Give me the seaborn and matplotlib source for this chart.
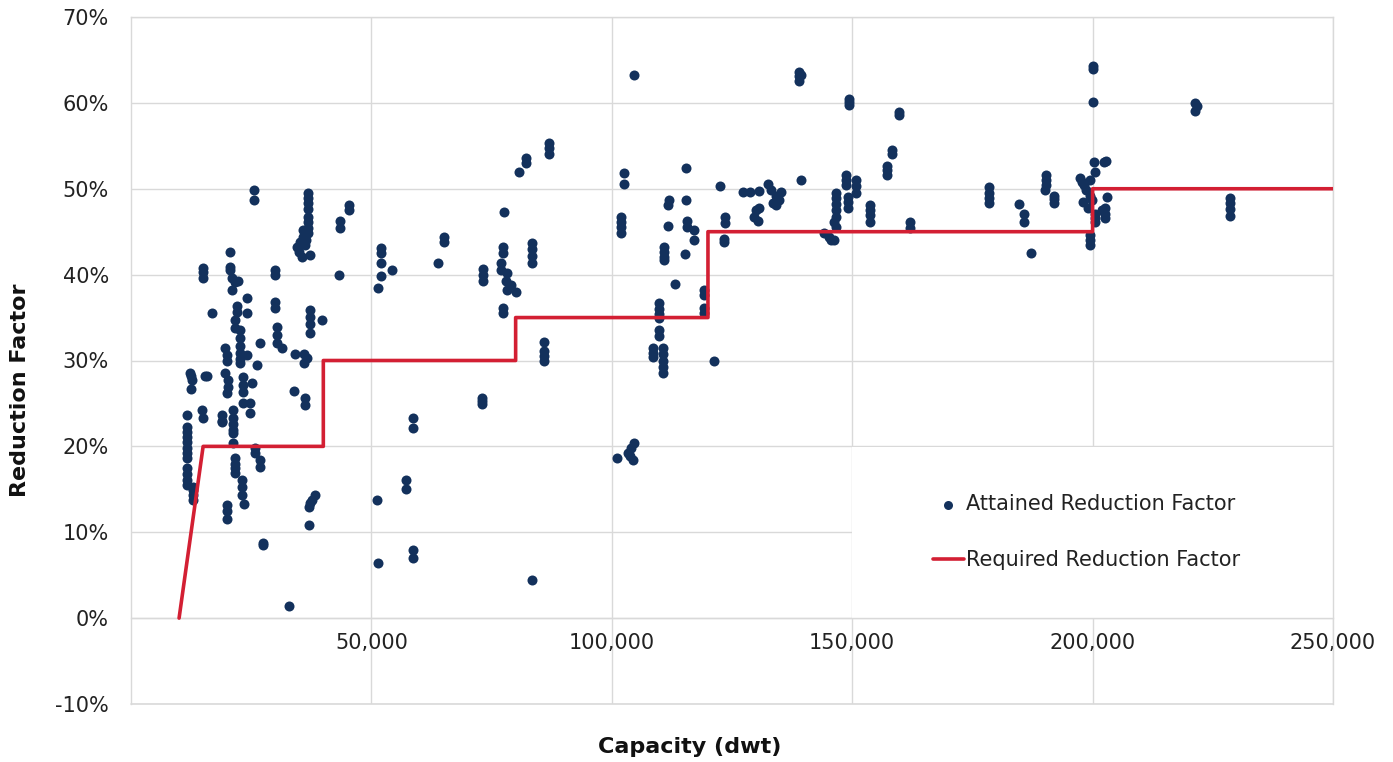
import matplotlib

matplotlib.use("Agg")
import matplotlib.pyplot as plt
import pandas as pd
import seaborn as sns
from matplotlib.patches import Rectangle
from matplotlib.ticker import FuncFormatter

NAVY = "#13315C"
RED = "#D31F33"
GRID = "#D9D9D9"

# attained reduction factor per ship, (capacity dwt, reduction %), grouped by size band
band_10_20k = [
    (11700, 23.6), (11700, 22.2), (11700, 21.7), (11700, 21.1), (11700, 20.5), (11700, 19.8),
    (11700, 19.2), (11700, 18.6), (11700, 17.5), (11700, 16.8), (11700, 16.1), (11700, 15.5),
    (12300, 28.6), (12500, 28.2), (12700, 27.7), (12500, 26.7),
    (12900, 15.3), (12900, 14.9), (12900, 14.3), (12900, 13.7),
    (15000, 40.8), (15000, 40.3), (15000, 39.6), (15400, 28.2), (15800, 28.2),
    (14800, 24.2), (15000, 23.3), (16900, 35.5),
    (19000, 23.6), (19000, 23.0), (19000, 22.8),
    (19600, 31.4), (20000, 30.6), (20000, 30.0), (19600, 28.6), (20200, 27.7), (20200, 26.9), (20000, 26.2),
]
band_20_30k = [
    (20600, 42.6), (20600, 40.9), (20600, 40.5), (21000, 39.6), (22300, 39.3), (21700, 39.1), (21000, 38.2),
    (22100, 36.4), (22100, 35.6), (21700, 34.7), (21700, 33.8), (24200, 37.3), (24200, 35.5),
    (22700, 33.5), (22700, 32.6), (22700, 31.7), (22700, 30.9), (22700, 30.2), (22700, 29.7),
    (24200, 30.6), (26900, 32.0), (26250, 29.5),
    (23300, 28.1), (23300, 27.2), (23300, 26.3), (23300, 25.0), (25200, 27.4), (24800, 25.0), (24800, 23.9),
    (21250, 24.2), (21250, 23.3), (21250, 22.6), (21250, 21.9), (21250, 21.5), (21250, 20.4),
    (21700, 18.7), (21700, 18.0), (21700, 17.5), (21700, 16.9),
    (23100, 16.1), (23100, 15.3), (23100, 14.3), (23500, 13.3),
    (20000, 13.2), (20000, 12.5), (20000, 11.6),
    (25800, 19.8), (25800, 19.2), (26900, 18.4), (26900, 17.6),
    (27500, 8.8), (27500, 8.5), (25600, 49.8), (25600, 48.7),
]
band_30_40k = [
    (30000, 40.5), (30000, 39.9), (30000, 36.8), (30000, 36.1),
    (30400, 33.9), (30400, 33.0), (30400, 32.0), (31500, 31.5), (32900, 1.4),
    (34200, 30.7), (36000, 30.8), (36000, 29.7), (36700, 30.3),
    (34000, 26.5), (36250, 25.6), (36250, 24.8),
    (37300, 35.9), (37300, 35.1), (37300, 34.2), (37300, 33.2), (39800, 34.7),
    (36900, 49.5), (36900, 48.9), (36900, 48.3), (36900, 47.7), (36900, 46.7), (36900, 46.1),
    (36900, 45.4), (36900, 44.8), (35800, 44.4), (35200, 43.8), (34600, 43.2), (36250, 43.4),
    (35000, 42.6), (35600, 42.0), (37300, 42.3), (35800, 45.2), (36500, 44.0),
    (38300, 14.3), (37700, 13.7), (37300, 13.4), (37100, 12.9), (37100, 10.9),
]
band_40_60k = [
    (43500, 46.3), (43500, 45.4), (45400, 48.1), (45400, 47.5), (43300, 40.0),
    (51250, 13.7), (51450, 6.4), (57100, 16.1), (57100, 15.0), (58750, 7.9), (58750, 7.0),
    (58750, 23.3), (58750, 22.1),
    (51900, 43.1), (51900, 42.5), (51900, 41.4), (51900, 39.8), (51450, 38.5), (54200, 40.5),
]
band_60_100k = [
    (63750, 41.3), (65000, 44.4), (65000, 43.8),
    (73100, 25.6), (73100, 25.3), (73100, 24.9), (73300, 40.7), (73300, 40.0), (73300, 39.3),
    (77500, 47.3), (77300, 43.2), (77300, 42.5), (76900, 41.4), (76900, 40.5),
    (78300, 40.2), (77900, 39.3), (79000, 38.8), (78300, 38.2), (80000, 38.0),
    (77300, 36.1), (77300, 35.5),
    (80800, 51.9), (82100, 53.6), (82100, 53.0), (86900, 55.3), (86900, 54.7), (86900, 54.1),
    (83300, 43.7), (83300, 43.0), (83300, 42.2), (83300, 41.3),
    (86000, 32.1), (86000, 31.1), (86000, 30.5), (86000, 30.0), (83300, 4.4),
]
band_100_150k = [
    (102500, 51.8), (102500, 50.6), (101900, 46.7), (101900, 46.1), (101900, 45.5), (101900, 44.9),
    (101000, 18.6), (103300, 19.2), (104000, 19.8), (104600, 20.4), (104400, 18.4), (103800, 18.9),
    (104600, 63.2),
    (111900, 48.7), (111700, 48.1), (111700, 45.7),
    (110800, 43.2), (110800, 42.6), (110800, 42.0), (110800, 41.7), (113100, 38.9),
    (109800, 36.7), (109800, 36.0), (109800, 35.4), (109800, 35.0), (109800, 33.5), (109800, 32.9),
    (108500, 31.4), (108500, 30.9), (108500, 30.4),
    (110600, 31.4), (110600, 30.7), (110600, 30.0), (110600, 29.3), (110600, 28.5),
    (115400, 52.4), (115400, 48.7), (115600, 46.3), (115600, 45.5), (117100, 45.2), (117100, 44.0),
    (115200, 42.4), (119200, 38.2), (119200, 37.6), (119200, 36.1), (119200, 35.5), (121200, 30.0),
    (122500, 50.3), (123500, 46.7), (123500, 46.0), (123300, 44.2), (123300, 43.8),
    (127300, 49.6), (128700, 49.6), (130600, 49.7), (132500, 50.6),
    (129600, 46.7), (130000, 47.5), (130600, 47.8), (130400, 46.3),
    (133100, 49.8), (134200, 49.2), (134800, 48.7), (133500, 48.3), (135200, 49.6), (134200, 48.1),
    (139400, 51.0), (139000, 63.6), (139000, 63.1), (139000, 62.6), (139400, 63.3),
    (146700, 49.5), (146700, 48.9), (146700, 48.2), (146700, 47.5), (146700, 46.7), (146700, 45.5),
    (146200, 46.1), (144200, 44.8), (145200, 44.4), (146200, 44.0), (145600, 44.0),
    (148700, 51.6), (148700, 51.0), (148700, 50.4), (149200, 49.0), (149200, 48.4), (149200, 47.8),
    (150800, 51.0), (150800, 50.3), (150800, 49.5), (149400, 60.5), (149400, 60.1), (149400, 59.7),
]
band_150k_plus = [
    (159800, 58.9), (159800, 58.6), (158300, 54.5), (158300, 54.1),
    (157300, 52.7), (157300, 52.2), (157300, 51.6),
    (153700, 48.1), (153700, 47.5), (153700, 46.9), (153700, 46.1), (162100, 46.1), (162100, 45.4),
    (178500, 50.2), (178500, 49.5), (178500, 48.9), (178500, 48.3),
    (184600, 48.2), (185800, 47.1), (185800, 46.1), (187100, 42.5),
    (190400, 51.6), (190400, 51.0), (190400, 50.4), (190000, 49.8),
    (191900, 49.2), (191900, 48.8), (191900, 48.3),
    (200000, 64.3), (200000, 64.0), (200000, 60.1),
    (200200, 53.1), (202300, 53.1), (202700, 53.2), (200400, 51.9),
    (197300, 51.2), (197700, 50.8), (198300, 50.4), (198700, 49.8), (199400, 49.2), (199800, 48.7),
    (199000, 47.8), (198100, 48.5), (199400, 51.0),
    (200400, 47.1), (200400, 46.6), (200400, 46.1),
    (202900, 49.0), (202500, 47.8), (202500, 47.1), (202500, 46.6), (201900, 47.5),
    (199400, 44.6), (199400, 44.0), (199400, 43.4),
    (221250, 60.0), (221700, 59.6), (221250, 59.1),
    (228500, 48.9), (228500, 48.3), (228500, 47.7), (228500, 46.8),
]

# required reduction factor (step curve)
required_dwt = [10000, 15000, 40000, 40000, 80000, 80000, 120000, 120000, 200000, 200000, 250000]
required_pct = [0, 20, 20, 30, 30, 35, 35, 45, 45, 50, 50]

x_ticks = [50000, 100000, 150000, 200000, 250000]
y_ticks = list(range(-10, 71, 10))


def main() -> None:
    sns.set_theme(style="white")
    plt.rcParams["font.family"] = ["DejaVu Sans"]

    bands = band_10_20k + band_20_30k + band_30_40k + band_40_60k + band_60_100k + band_100_150k + band_150k_plus
    points = pd.DataFrame(bands, columns=["dwt", "pct"])

    fig, ax = plt.subplots(figsize=(13.93, 7.62), dpi=100)
    fig.subplots_adjust(left=131 / 1393, right=1333 / 1393, top=1 - 17 / 762, bottom=1 - 704 / 762)

    ax.set_axisbelow(True)
    ax.grid(True, color=GRID, linewidth=1.0)
    for spine in ax.spines.values():
        spine.set_color(GRID)
        spine.set_linewidth(1.0)
    ax.spines["bottom"].set_position(("data", 0))
    # frame line along the bottom edge (-10%)
    ax.axhline(-10, color=GRID, linewidth=1.2, clip_on=False, zorder=0.6)

    # white panel behind the legend hides the gridlines there
    ax.add_patch(Rectangle((0.6, 0.125), 0.4, 0.249, transform=ax.transAxes,
                           facecolor="white", edgecolor="none", zorder=1))

    sns.scatterplot(data=points, x="dwt", y="pct", color=NAVY, s=52, linewidth=0,
                    ax=ax, label="Attained Reduction Factor", zorder=3)
    sns.lineplot(x=required_dwt, y=required_pct, sort=False, estimator=None, color=RED,
                 linewidth=2.6, ax=ax, label="Required Reduction Factor", zorder=4)

    ax.set_xlim(0, 250000)
    ax.set_ylim(-10, 70)
    ax.set_xticks(x_ticks)
    ax.set_yticks(y_ticks)
    ax.xaxis.set_major_formatter(FuncFormatter(lambda v, _: f"{v:,.0f}"))
    ax.yaxis.set_major_formatter(FuncFormatter(lambda v, _: f"{v:.0f}%"))
    ax.tick_params(axis="x", length=0, pad=11, labelsize=15, labelcolor="#222222")
    ax.tick_params(axis="y", length=0, pad=16, labelsize=15, labelcolor="#222222")

    ax.set_xlabel("")
    ax.set_ylabel("")
    fig.text(690 / 1393, 1 - 747 / 762, "Capacity (dwt)", ha="center", va="center",
             fontsize=16, fontweight="bold", color="#111111")
    fig.text(20 / 1393, 1 - 390 / 762, "Reduction Factor", ha="center", va="center", rotation=90,
             fontsize=16, fontweight="bold", color="#111111")

    handles, labels = ax.get_legend_handles_labels()
    ax.legend(handles, labels, loc="center", bbox_to_anchor=(0.795, 0.25), frameon=False,
              fontsize=15, labelspacing=1.75, handlelength=1.5, handletextpad=0.1,
              markerscale=0.9, labelcolor="#222222")

    fig.savefig("out.png", dpi=100)


if __name__ == "__main__":
    main()
